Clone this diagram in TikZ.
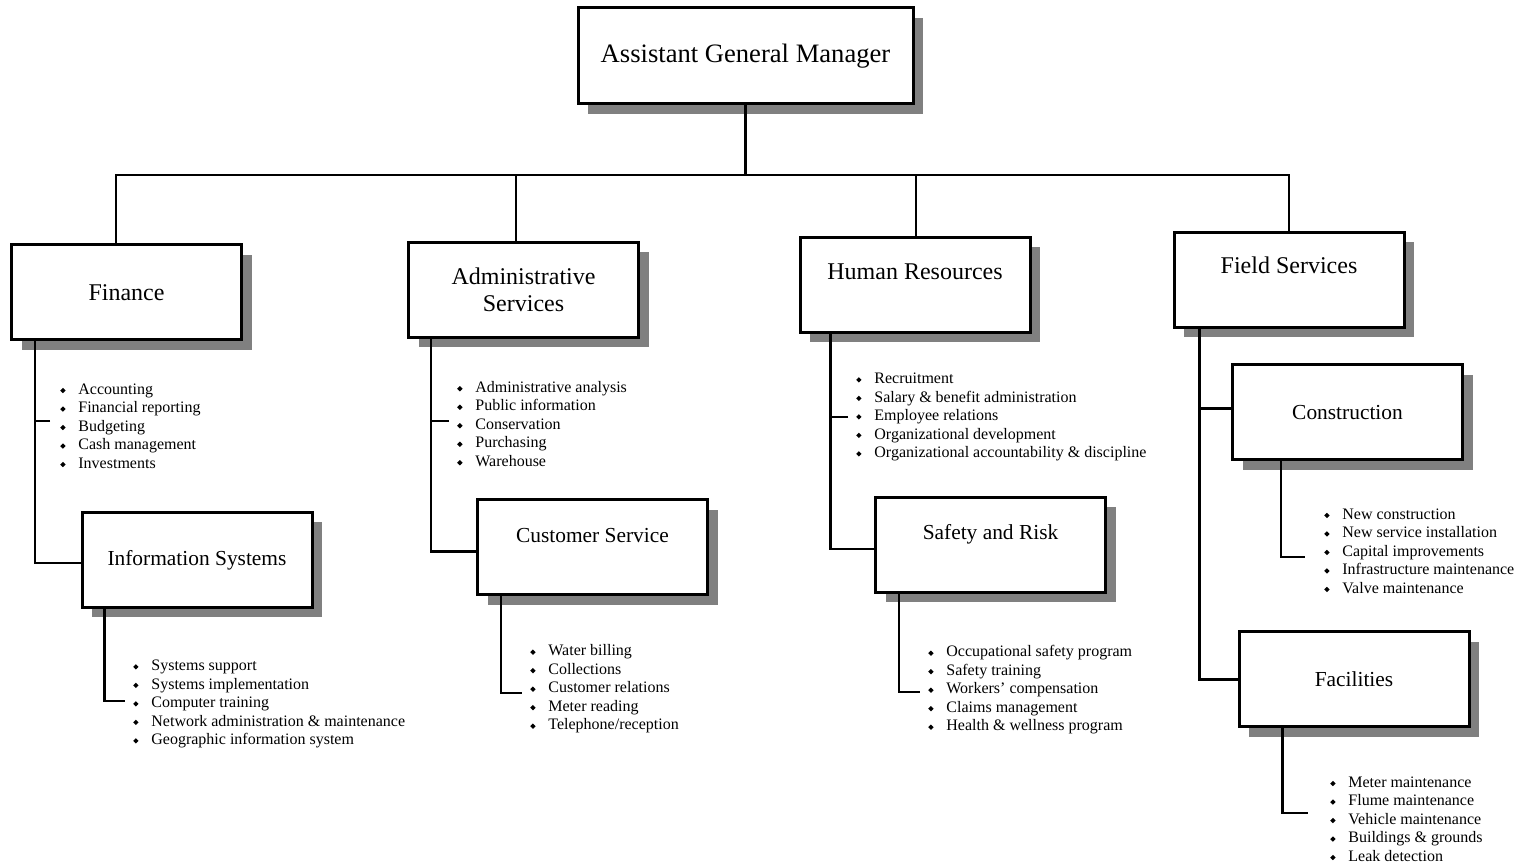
\documentclass[tikz,border=0pt]{standalone}
\usepackage{fontspec}
\setmainfont{Liberation Serif}
\usetikzlibrary{shadows}
\definecolor{shadowgray}{RGB}{128,128,128}
% small diamond bullet for the duty lists
\newcommand{\dia}{\raisebox{0.5pt}{\rotatebox{45}{\rule{1.9pt}{1.9pt}}}}
\newcommand{\itm}{\leavevmode\llap{\dia\hspace{6.4pt}}}

\begin{document}
\begin{tikzpicture}[x=0.5pt,y=-0.5pt,
  box/.style={draw, line width=1.5pt, fill=white, minimum width=115pt,
    minimum height=47.5pt, inner sep=0pt, align=center,
    general shadow={shadow xshift=5pt, shadow yshift=-5pt, fill=shadowgray}},
  head/.style={font=\fontsize{12}{13.5}\selectfont},
  sub/.style={font=\fontsize{10.7}{13}\selectfont},
  title/.style={inner sep=0pt},
  list/.style={anchor=west, inner sep=0pt, align=left,
    font=\fontsize{8}{9.25}\selectfont},
  link/.style={line width=1.2pt},
]
\useasboundingbox (0,0) rectangle (1532,865);

% boxes
\node[box, minimum width=167.5pt, minimum height=48pt,
  font=\fontsize{13.3}{16}\selectfont] (agm) at (745.5,56) {Assistant General Manager};
\node[box, head] (fin) at (126.5,292.5) {Finance};
\node[box, head] (adm) at (523.5,290) {Administrative\\Services};
\node[box, label={[head, title, yshift=6.5pt]center:Human Resources}] (hr) at (915,285) {};
\node[box, label={[head, title, yshift=7.5pt]center:Field Services}] (fld) at (1289,280) {};
\node[box, sub] (info) at (197,560) {Information Systems};
\node[box, label={[sub, title, yshift=5.75pt]center:Customer Service}] (cust) at (592.5,547.5) {};
\node[box, label={[sub, title, yshift=5.5pt]center:Safety and Risk}] (safe) at (990.5,545) {};
\node[box, sub] (cons) at (1347.5,412.5) {Construction};
\node[box, sub] (fac) at (1354,679.5) {Facilities};

% duty lists
\node[list] (fin-l) at (78,426) {\itm Accounting\\ \itm Financial reporting\\ \itm Budgeting\\ \itm Cash management\\ \itm Investments};
\node[list] (info-l) at (151,704) {\itm Systems support\\ \itm Systems implementation\\ \itm Computer training\\ \itm Network administration \& maintenance\\ \itm Geographic information system};
\node[list] (adm-l) at (475,424) {\itm Administrative analysis\\ \itm Public information\\ \itm Conservation\\ \itm Purchasing\\ \itm Warehouse};
\node[list] (cust-l) at (548,689) {\itm Water billing\\ \itm Collections\\ \itm Customer relations\\ \itm Meter reading\\ \itm Telephone/reception};
\node[list] (hr-l) at (874,417) {\itm Recruitment\\ \itm Salary \& benefit administration\\ \itm Employee relations\\ \itm Organizational development\\ \itm Organizational accountability \& discipline};
\node[list] (safe-l) at (946,690) {\itm Occupational safety program\\ \itm Safety training\\ \itm Workers' compensation\\ \itm Claims management\\ \itm Health \& wellness program};
\node[list] (cons-l) at (1342,551) {\itm New construction\\ \itm New service installation\\ \itm Capital improvements\\ \itm Infrastructure maintenance\\ \itm Valve maintenance};
\node[list] (fac-l) at (1348,819) {\itm Meter maintenance\\ \itm Flume maintenance\\ \itm Vehicle maintenance\\ \itm Buildings \& grounds\\ \itm Leak detection};

% top-level bus
\coordinate (bus) at (747,175);
\draw[link] (agm.south) -- (agm.south |- bus);
\draw[link] ([xshift=-5.25pt]fin.north) |- (bus);
\draw[link] ([xshift=-3.75pt]adm.north) |- (bus);
\draw[link] ([xshift=0.5pt]hr.north) |- (bus);
\draw[link] (fld.north) |- (bus);

% trunk and list coordinates
\coordinate (fin-trunk) at ([xshift=12.5pt]fin.south west);
\coordinate (info-trunk) at ([xshift=12pt]info.south west);
\coordinate (adm-trunk) at ([xshift=12pt]adm.south west);
\coordinate (cust-trunk) at ([xshift=12.5pt]cust.south west);
\coordinate (hr-trunk) at ([xshift=16pt]hr.south west);
\coordinate (safe-trunk) at ([xshift=12.5pt]safe.south west);
\coordinate (fld-trunk) at ([xshift=13.5pt]fld.south west);
\coordinate (cons-trunk) at ([xshift=25pt]cons.south west);
\coordinate (fac-trunk) at ([xshift=22.5pt]fac.south west);

\coordinate (fin-tick) at (50,421);
\coordinate (adm-tick) at (449,421);
\coordinate (hr-tick) at (848,417);
\coordinate (info-end) at (125,701);
\coordinate (cust-end) at (522,693);
\coordinate (safe-end) at (920,692);
\coordinate (cons-end) at (1305,557);
\coordinate (fac-end) at (1308,813);

% department branches
\draw[link] (fin-trunk) |- ([yshift=-1.5pt]info.west);
\draw[link] (fin-tick) -- (fin-tick -| fin-trunk);
\draw[link] (info-trunk) |- (info-end);
\draw[link] (adm-trunk) |- ([yshift=-2pt]cust.west);
\draw[link] (adm-tick) -- (adm-tick -| adm-trunk);
\draw[link] (cust-trunk) |- (cust-end);
\draw[link] (hr-trunk) |- ([yshift=-2pt]safe.west);
\draw[link] (hr-tick) -- (hr-tick -| hr-trunk);
\draw[link] (safe-trunk) |- (safe-end);
\draw[link] (fld-trunk) |- (fac.west);
\draw[link] ([yshift=2pt]cons.west) -- ([yshift=2pt]cons.west -| fld-trunk);
\draw[link] (cons-trunk) |- (cons-end);
\draw[link] (fac-trunk) |- (fac-end);
\end{tikzpicture}
\end{document}
